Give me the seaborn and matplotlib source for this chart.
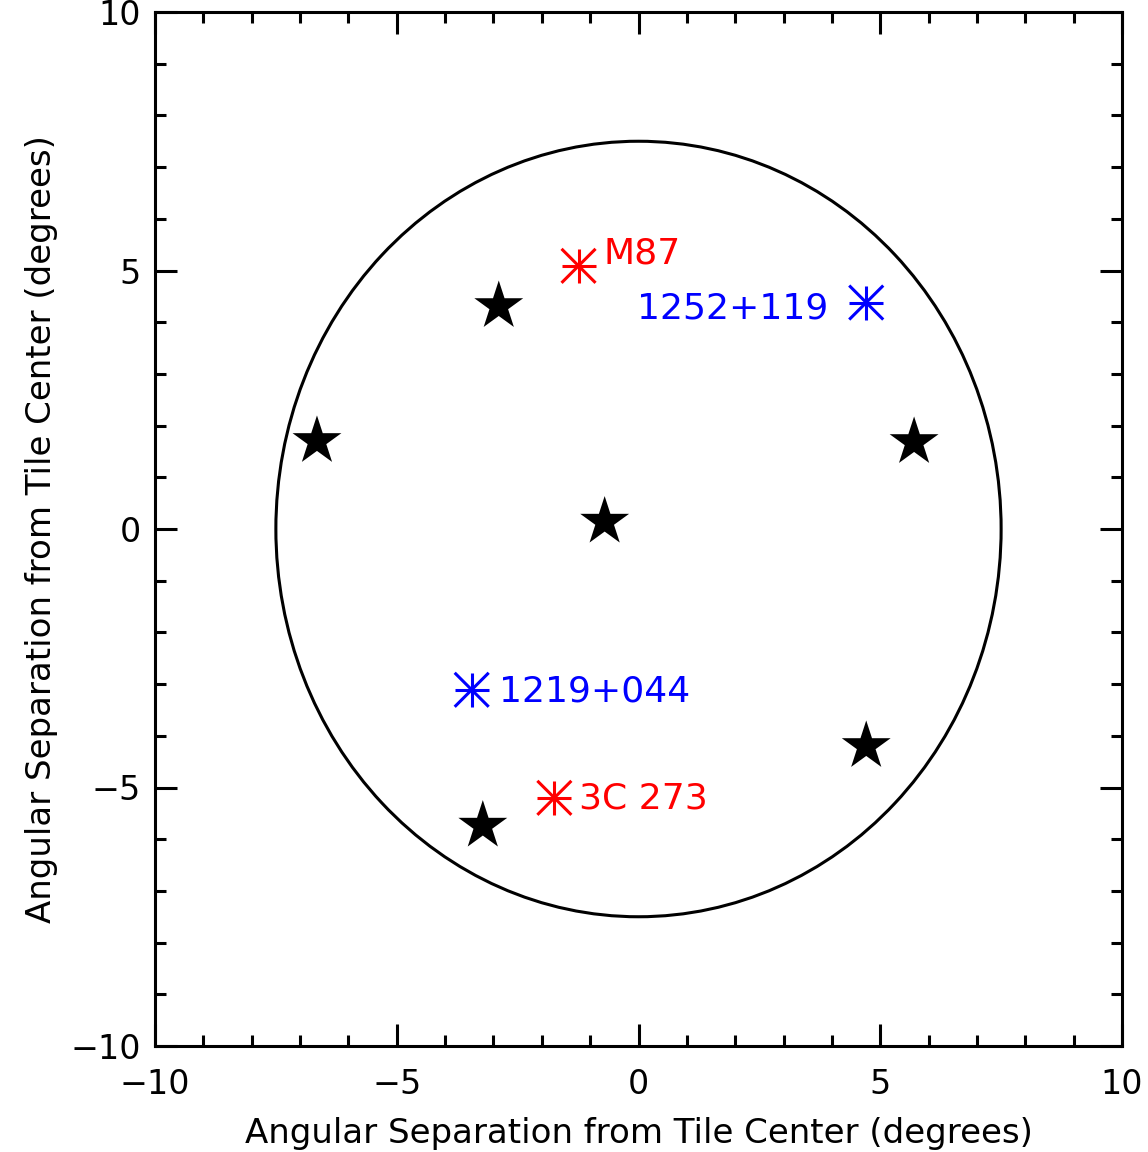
import numpy as np
import pandas as pd
import seaborn as sns
import matplotlib
matplotlib.use("Agg")
import matplotlib.pyplot as plt
from matplotlib.ticker import MultipleLocator

# Tile field-of-view radius (degrees)
tile_radius = 7.5

# Pointing positions (stars), offsets from tile center in degrees
star_x = [-2.89, -6.65, 5.70, -0.70, 4.71, -3.22]
star_y = [4.31, 1.70, 1.68, 0.14, -4.20, -5.74]

# Named sources
src_name = ["M87", "1252+119", "1219+044", "3C 273"]
src_x = [-1.24, 4.71, -3.45, -1.74]
src_y = [5.09, 4.38, -3.11, -5.20]
src_kind = ["red", "blue", "blue", "red"]

# Label anchor positions (data coords) and alignment
lbl_x = [-0.72, 3.93, -2.89, -1.24]
lbl_y = [5.13, 4.08, -3.33, -5.40]
lbl_ha = ["left", "right", "left", "left"]

palette = {"red": "#ff0000", "blue": "#0000ff"}

sns.set_theme(style="white")
plt.rcParams["font.family"] = ["DejaVu Sans"]

fig = plt.figure(figsize=(11.48, 11.52), dpi=100)
ax = fig.add_axes([155 / 1148, 1 - 1046 / 1152, 967 / 1148, 1034 / 1152])

stars = pd.DataFrame({"x": star_x, "y": star_y})
srcs = pd.DataFrame({"x": src_x, "y": src_y, "kind": src_kind, "name": src_name})

# Field-of-view circle
ax.add_patch(plt.Circle((0, 0), tile_radius, fill=False, color="black", lw=2.2))

sns.scatterplot(data=stars, x="x", y="y", marker="*", s=1369, color="black",
                edgecolor="none", ax=ax, legend=False, zorder=3)

# Asterisk markers: plus and cross overlaid
for mk in ["+", "x"]:
    sns.scatterplot(data=srcs, x="x", y="y", hue="kind", palette=palette,
                    marker=mk, s=600, linewidth=2.2, ax=ax, legend=False, zorder=4)

for name, x, y, ha, kind in zip(src_name, lbl_x, lbl_y, lbl_ha, src_kind):
    ax.text(x, y, name, color=palette[kind], fontsize=26, ha=ha, va="baseline", zorder=5)

ax.set_xlim(-10, 10)
ax.set_ylim(-10, 10)
ax.xaxis.set_major_locator(MultipleLocator(5))
ax.yaxis.set_major_locator(MultipleLocator(5))
ax.xaxis.set_minor_locator(MultipleLocator(1))
ax.yaxis.set_minor_locator(MultipleLocator(1))
ax.tick_params(which="both", direction="in", top=True, right=True, bottom=True, left=True,
               color="black", labelsize=24, labelcolor="black")
ax.tick_params(which="major", length=16, width=2.2)
ax.tick_params(which="minor", length=8, width=2.2)
ax.tick_params(axis="x", which="major", pad=16)
ax.tick_params(axis="y", which="major", pad=10)
for sp in ax.spines.values():
    sp.set_color("black")
    sp.set_linewidth(2.2)

ax.set_xlabel("Angular Separation from Tile Center (degrees)", fontsize=24.5, labelpad=11, color="black")
ax.set_ylabel("Angular Separation from Tile Center (degrees)", fontsize=24.5, labelpad=9, color="black")

fig.savefig("out.png", dpi=100, facecolor="white")
